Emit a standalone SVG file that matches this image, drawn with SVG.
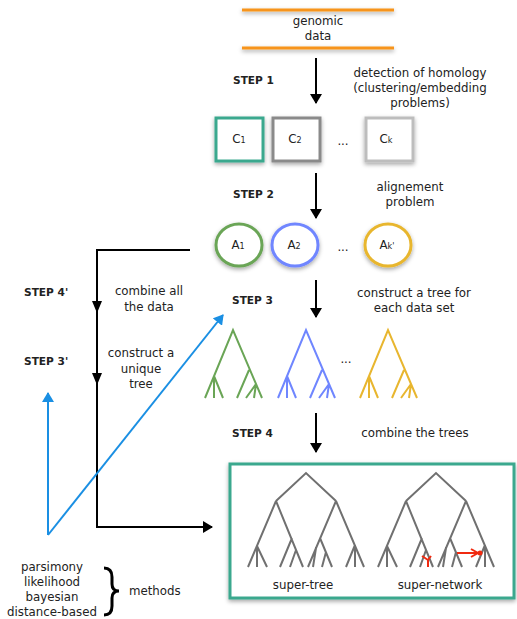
<svg xmlns="http://www.w3.org/2000/svg" xmlns:xlink="http://www.w3.org/1999/xlink" width="517" height="619" viewBox="0 0 517 619">
<style>
  text { font-family: "DejaVu Sans", "Liberation Sans", sans-serif; font-size: 11.8px; fill: #222; }
  .c { text-anchor: middle; }
  .step { font-weight: bold; font-size: 10.6px; }
  .sub { font-size: 8px; }
  .arrow { stroke: #000; stroke-width: 2; fill: none; }
  .blue { stroke: #1a8fe3; stroke-width: 2; fill: none; }
  .tree { fill: none; stroke-width: 2; stroke-linecap: butt; }
  .big { stroke: #707070; }
</style>
<defs>
  <filter id="sh" x="-30%" y="-30%" width="160%" height="170%">
    <feDropShadow dx="0" dy="2" stdDeviation="2" flood-color="#000" flood-opacity="0.35"/>
  </filter>
  <marker id="ah" markerWidth="10" markerHeight="12" refX="9" refY="6" orient="auto" markerUnits="userSpaceOnUse">
    <path d="M0,0 L10,6 L0,12 z" fill="#000"/>
  </marker>
  <marker id="ahb" markerWidth="10" markerHeight="12" refX="9" refY="6" orient="auto" markerUnits="userSpaceOnUse">
    <path d="M0,0 L10,6 L0,12 z" fill="#1a8fe3"/>
  </marker>
  <path id="smalltree" d="M-28,68 L0,0 L29,68 M-19,46 L-19,68 M-19,46 L-10,68 M16,40 L4,68 M23,54 L13,68 M23,54 L21,68"/>
  <path id="bigtree" d="M-30,28 L0,0 L30,28 M-30,28 L-58,94 M-49,73 L-49,94 M-49,73 L-39,94 M-30,28 L-3,94 M-14,65 L-26,94 M-10,77 L-16,94 M30,28 L2,94 M14,65 L26,94 M10,75 L7,94 M20,79 L16,94 M30,28 L58,94 M49,72 L49,94 M49,72 L40,94"/>
</defs>
<rect width="517" height="619" fill="#fff"/>

<g id="genomic">
  <g filter="url(#sh)">
    <line x1="242" y1="10" x2="394" y2="10" stroke="#f7941d" stroke-width="3"/>
    <line x1="242" y1="48" x2="394" y2="48" stroke="#f7941d" stroke-width="3"/>
  </g>
  <text x="318" y="25" class="c">genomic</text>
  <text x="318" y="40" class="c">data</text>
</g>

<g id="step-labels">
  <text x="233" y="84" class="step">STEP 1</text>
  <text x="233" y="198" class="step">STEP 2</text>
  <text x="232" y="304" class="step">STEP 3</text>
  <text x="232" y="437" class="step">STEP 4</text>
  <text x="24" y="296" class="step">STEP 4'</text>
  <text x="24" y="365" class="step">STEP 3'</text>
</g>

<g id="descriptions">
  <text x="420" y="77" class="c">detection of homology</text>
  <text x="420" y="92" class="c">(clustering/embedding</text>
  <text x="420" y="107" class="c">problems)</text>
  <text x="410" y="191" class="c">alignement</text>
  <text x="410" y="206" class="c">problem</text>
  <text x="414" y="297" class="c">construct a tree for</text>
  <text x="414" y="312" class="c">each data set</text>
  <text x="415" y="437" class="c">combine the trees</text>
  <text x="149" y="295" class="c">combine all</text>
  <text x="149" y="311" class="c">the data</text>
  <text x="141" y="357" class="c">construct a</text>
  <text x="141" y="373" class="c">unique</text>
  <text x="141" y="388" class="c">tree</text>
</g>

<g id="clusters">
  <g id="C1">
    <rect x="216" y="118" width="47" height="43" fill="#fff" stroke="#3aa88e" stroke-width="3" filter="url(#sh)"/>
    <text x="239" y="143" class="c">C<tspan class="sub">1</tspan></text>
  </g>
  <g id="C2">
    <rect x="273" y="118" width="47" height="43" fill="#fff" stroke="#8a8a8a" stroke-width="3" filter="url(#sh)"/>
    <text x="295" y="143" class="c">C<tspan class="sub">2</tspan></text>
  </g>
  <text x="343" y="145" class="c">...</text>
  <g id="Ck">
    <rect x="366" y="118" width="47" height="43" fill="#fff" stroke="#bdbdbd" stroke-width="3" filter="url(#sh)"/>
    <text x="386" y="143" class="c">C<tspan class="sub">k</tspan></text>
  </g>
</g>

<g id="alignments">
  <g id="A1">
    <ellipse cx="239" cy="245" rx="23" ry="21" fill="#fff" stroke="#6aa556" stroke-width="3" filter="url(#sh)"/>
    <text x="238" y="249" class="c">A<tspan class="sub">1</tspan></text>
  </g>
  <g id="A2">
    <ellipse cx="295" cy="245" rx="23" ry="21" fill="#fff" stroke="#6f86ff" stroke-width="3" filter="url(#sh)"/>
    <text x="294" y="249" class="c">A<tspan class="sub">2</tspan></text>
  </g>
  <text x="343" y="251" class="c">...</text>
  <g id="Ak">
    <ellipse cx="388" cy="245" rx="23" ry="21" fill="#fff" stroke="#e8b62f" stroke-width="3" filter="url(#sh)"/>
    <text x="387" y="249" class="c">A<tspan class="sub">k'</tspan></text>
  </g>
</g>

<g id="small-trees" class="tree">
  <use xlink:href="#smalltree" x="233" y="330" stroke="#6aa556"/>
  <use xlink:href="#smalltree" x="306" y="330" stroke="#6f86ff"/>
  <text x="346" y="363" class="c">...</text>
  <use xlink:href="#smalltree" x="388" y="330" stroke="#e8b62f"/>
</g>

<g id="result-box">
  <rect x="230" y="464" width="284" height="134" fill="#fff" stroke="#3aa88e" stroke-width="3" filter="url(#sh)"/>
  <g class="tree big">
    <use xlink:href="#bigtree" x="306" y="473"/>
    <use xlink:href="#bigtree" x="436" y="473"/>
  </g>
  <g stroke="#f02a10" stroke-width="2" fill="none">
    <path d="M422,556 L428,560 L431,556 M428,560 L428,567"/>
    <line x1="457" y1="553" x2="477" y2="553"/>
    <path d="M471,549 L478,553 L471,557"/>
  </g>
  <circle cx="480" cy="553" r="2.5" fill="#f02a10"/>
  <text x="303" y="589" class="c">super-tree</text>
  <text x="440" y="589" class="c">super-network</text>
</g>

<g id="connectors">
  <line x1="316" y1="58" x2="316" y2="103" class="arrow" marker-end="url(#ah)"/>
  <line x1="316" y1="173" x2="316" y2="218" class="arrow" marker-end="url(#ah)"/>
  <line x1="316" y1="280" x2="316" y2="317" class="arrow" marker-end="url(#ah)"/>
  <line x1="316" y1="413" x2="316" y2="452" class="arrow" marker-end="url(#ah)"/>
  <path d="M190,250 H97 V527 H212" class="arrow" marker-end="url(#ah)"/>
  <path d="M92,301 L102,301 L97,313 z" fill="#000"/>
  <path d="M92,373 L102,373 L97,385 z" fill="#000"/>
  <line x1="48" y1="535" x2="48" y2="393" class="blue" marker-end="url(#ahb)"/>
  <line x1="48" y1="535" x2="223" y2="315" class="blue" marker-end="url(#ahb)"/>
</g>

<g id="methods">
  <text x="52" y="571" class="c">parsimony</text>
  <text x="52" y="586" class="c">likelihood</text>
  <text x="52" y="601" class="c">bayesian</text>
  <text x="52" y="616" class="c">distance-based</text>
  <path d="M104,568 Q112,568 112,577 L112,584 Q112,591 119,591 Q112,591 112,598 L112,606 Q112,615 104,615" fill="none" stroke="#000" stroke-width="3"/>
  <text x="129" y="595">methods</text>
</g>
</svg>
